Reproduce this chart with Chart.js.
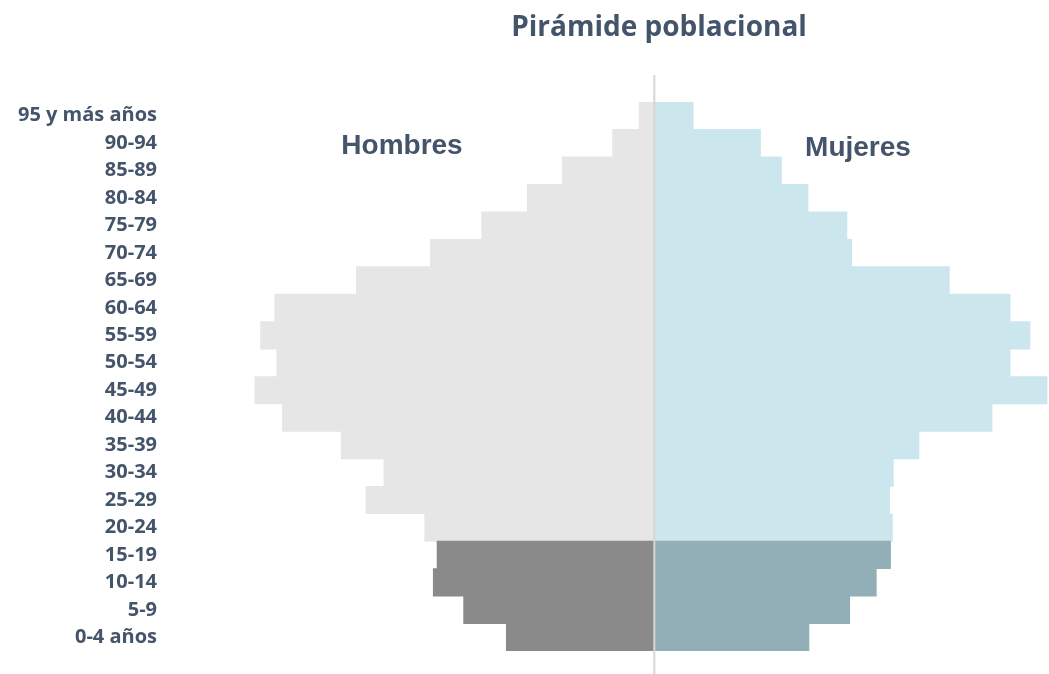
<!DOCTYPE html>
<html lang="es">

<head>
    <meta charset="UTF-8">
    <title>Pirámide poblacional</title>
    <script src="https://cdn.jsdelivr.net/npm/chart.js"></script>
    <style>
        html, body { margin: 0; padding: 0; background: #fff; }
        #wrap { width: 1049px; height: 674px; }
    </style>
</head>

<body>
    <div id="wrap"><canvas id="piramide"></canvas></div>

    <script>
        // grupos de edad (de arriba abajo) y % de la población
        const edades = ['95 y más años', '90-94', '85-89', '80-84', '75-79', '70-74', '65-69', '60-64', '55-59',
            '50-54', '45-49', '40-44', '35-39', '30-34', '25-29', '20-24', '15-19', '10-14', '5-9', '0-4 años'];
        const hombres = [0.16, 0.44, 0.97, 1.34, 1.82, 2.36, 3.14, 4.00, 4.15, 3.98,
            4.21, 3.92, 3.30, 2.85, 3.04, 2.42, 2.29, 2.33, 2.01, 1.56];
        const mujeres = [0.41, 1.12, 1.34, 1.62, 2.03, 2.08, 3.11, 3.75, 3.96, 3.75,
            4.14, 3.56, 2.79, 2.52, 2.48, 2.51, 2.49, 2.34, 2.06, 1.63];
        const jovenes = ['15-19', '10-14', '5-9', '0-4 años'];

        const textColor = '#44546a';

        const coloresH = edades.map(e => jovenes.includes(e) ? '#8a8a8a' : '#e6e6e6');
        const coloresM = edades.map(e => jovenes.includes(e) ? '#92afb8' : '#cbe7ed');

        const extras = {
            id: 'extras',
            afterDatasetsDraw(chart) {
                const c = chart.ctx;
                const x0 = chart.scales.x.getPixelForValue(0);
                c.save();
                c.strokeStyle = '#d6d6d6';
                c.lineWidth = 2;
                c.beginPath();
                c.moveTo(x0, 75);
                c.lineTo(x0, chart.height);
                c.stroke();

                c.fillStyle = textColor;
                c.textAlign = 'center';
                c.textBaseline = 'middle';
                c.font = 'bold 28px "Open Sans"';
                c.fillText('Pirámide poblacional', 659, 28);
                c.font = 'bold 28px "Liberation Sans"';
                c.fillText('Hombres', 402, 146);
                c.fillText('Mujeres', 858, 148);
                c.restore();
            }
        };

        new Chart(document.getElementById('piramide'), {
            type: 'bar',
            data: {
                labels: edades,
                datasets: [{
                    label: 'Hombres',
                    data: hombres.map(v => -v),
                    backgroundColor: coloresH,
                    borderWidth: 0,
                    barPercentage: 1,
                    categoryPercentage: 1
                }, {
                    label: 'Mujeres',
                    data: mujeres,
                    backgroundColor: coloresM,
                    borderWidth: 0,
                    barPercentage: 1,
                    categoryPercentage: 1
                }]
            },
            options: {
                indexAxis: 'y',
                responsive: true,
                maintainAspectRatio: false,
                animation: false,
                layout: { padding: { top: 102, bottom: 23, left: 0, right: 0 } },
                plugins: {
                    legend: { display: false },
                    tooltip: { enabled: false }
                },
                scales: {
                    x: {
                        display: false,
                        stacked: true,
                        min: -5.21,
                        max: 4.16
                    },
                    y: {
                        stacked: true,
                        grid: { display: false, drawTicks: false },
                        border: { display: false },
                        afterFit(scale) { scale.width = 160; },
                        ticks: {
                            color: textColor,
                            padding: 3,
                            autoSkip: false,
                            font: { family: '"Open Sans"', size: 20, weight: 'bold' }
                        }
                    }
                }
            },
            plugins: [extras]
        });
    </script>
</body>

</html>
